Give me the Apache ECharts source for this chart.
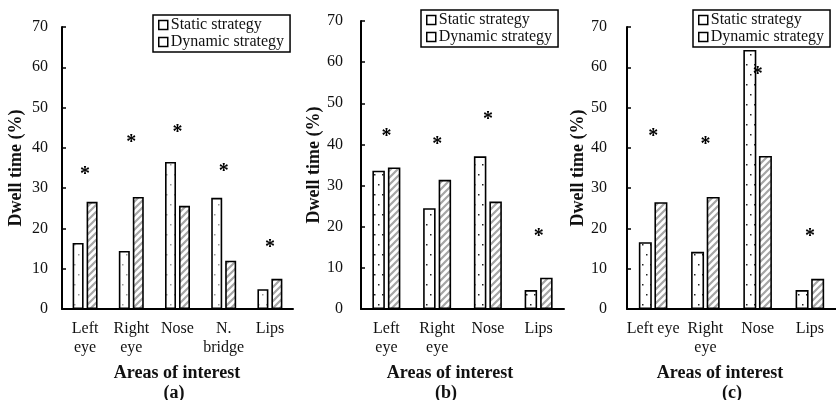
<!DOCTYPE html>
<html><head><meta charset="utf-8">
<script src="https://cdn.jsdelivr.net/npm/echarts@6/dist/echarts.min.js"></script>
<style>html,body{margin:0;padding:0;background:#fff}#c{width:836px;height:400px}</style>
</head><body><div id="c"></div>
<script>
// ---- data ----
const catsA = ['Left\neye', 'Right\neye', 'Nose', 'N.\nbridge', 'Lips'];
const staticA = [16.4, 14.4, 36.5, 27.6, 4.9];
const dynamicA = [26.6, 27.8, 25.6, 12.0, 7.5];
const starA = [34.5, 42.4, 44.9, 35.3, 16.4];

const catsB = ['Left\neye', 'Right\neye', 'Nose', 'Lips'];
const staticB = [33.6, 24.5, 37.1, 4.6];
const dynamicB = [34.4, 31.4, 26.1, 7.6];
const starB = [43.1, 41.1, 47.2, 18.8];

const catsC = ['Left eye', 'Right\neye', 'Nose', 'Lips'];
const staticC = [16.6, 14.2, 64.3, 4.7];
const dynamicC = [26.5, 27.8, 38.0, 7.5];
const starC = [43.9, 41.9, 59.3, 19.2];

const seriesNames = ['Static strategy', 'Dynamic strategy'];
const xTitle = 'Areas of interest';
const yTitle = 'Dwell time (%)';
const panelTags = ['(a)', '(b)', '(c)'];
const yMin = 0, yMax = 70, yStep = 10;

// ---- patterns ----
function dotPattern(color) {
  const c = document.createElement('canvas'); c.width = 8; c.height = 20;
  const g = c.getContext('2d'); g.fillStyle = '#fff'; g.fillRect(0, 0, 8, 20);
  g.fillStyle = color;
  g.fillRect(2, 4, 1.5, 1.5); g.fillRect(6, 14, 1.5, 1.5);
  return { image: c, repeat: 'repeat' };
}
function hatchPattern() {
  const s = 7;
  const c = document.createElement('canvas'); c.width = s; c.height = s;
  const g = c.getContext('2d'); g.fillStyle = '#fff'; g.fillRect(0, 0, s, s);
  g.strokeStyle = '#a6a6a6'; g.lineWidth = 2.2;
  g.beginPath();
  g.moveTo(-1, s + 1); g.lineTo(s + 1, -1);
  g.moveTo(-1, 1); g.lineTo(1, -1);
  g.moveTo(s - 1, s + 1); g.lineTo(s + 1, s - 1);
  g.stroke();
  return { image: c, repeat: 'repeat' };
}

const FONT = 'Liberation Serif';
const panels = [
  { cats: catsA, st: staticA, dy: dynamicA, star: starA, grid: { left: 62, top: 27, width: 231, height: 282 }, bw: 11, gap: '27%', dot: '#9a9a9a', lmargin: 14, nameGap: 37,
    legend: { left: 153, top: 15 }, titleX: 177, tagX: 174 },
  { cats: catsB, st: staticB, dy: dynamicB, star: starB, grid: { left: 361, top: 21, width: 203, height: 288 }, bw: 12.5, gap: '24%', dot: '#222', lmargin: 18, nameGap: 38,
    legend: { left: 421, top: 10 }, titleX: 450, tagX: 446 },
  { cats: catsC, st: staticC, dy: dynamicC, star: starC, grid: { left: 627, top: 27, width: 216, height: 282 }, bw: 13, gap: '20%', dot: '#222', lmargin: 20, nameGap: 31,
    legend: { left: 693, top: 10 }, titleX: 720, tagX: 732 }
];

const option = {
  animation: false,
  backgroundColor: '#fff',
  textStyle: { fontFamily: FONT },
  grid: [], xAxis: [], yAxis: [], series: [], legend: [], graphic: []
};

panels.forEach((p, i) => {
  option.grid.push(Object.assign({ containLabel: false }, p.grid));
  option.xAxis.push({
    type: 'category', gridIndex: i, data: p.cats,
    axisLine: { lineStyle: { color: '#000', width: 2 } },
    axisTick: { show: false },
    axisLabel: { interval: 0, color: '#111', fontFamily: FONT, fontSize: 16, lineHeight: 19, margin: 10 }
  });
  option.yAxis.push({
    type: 'value', gridIndex: i, min: yMin, max: yMax, interval: yStep,
    name: yTitle, nameLocation: 'middle', nameGap: p.nameGap,
    nameTextStyle: { fontFamily: FONT, fontWeight: 'bold', fontSize: 18, color: '#111' },
    axisLine: { show: true, lineStyle: { color: '#000', width: 2 } },
    axisTick: { show: true, inside: true, length: 4, lineStyle: { color: '#000', width: 1.5 } },
    splitLine: { show: false },
    axisLabel: { color: '#111', fontFamily: FONT, fontSize: 16, margin: p.lmargin }
  });
  option.series.push({
    name: seriesNames[0], type: 'bar', xAxisIndex: i, yAxisIndex: i, data: p.st,
    barWidth: p.bw, barGap: p.gap,
    itemStyle: { color: dotPattern(p.dot), borderColor: '#000', borderWidth: 1.6 }
  });
  option.series.push({
    name: seriesNames[1], type: 'bar', xAxisIndex: i, yAxisIndex: i, data: p.dy,
    barWidth: p.bw, barGap: p.gap,
    itemStyle: { color: hatchPattern(), borderColor: '#000', borderWidth: 1.6 }
  });
  option.series.push({
    name: 'sig', type: 'scatter', xAxisIndex: i, yAxisIndex: i, data: p.star,
    symbolSize: 2, itemStyle: { color: 'rgba(0,0,0,0)', opacity: 1 },
    label: { show: true, position: 'inside', formatter: '*', fontFamily: FONT, fontWeight: 'bold', fontSize: 20, color: '#000', opacity: 1, offset: [0, 5] }
  });
  option.legend.push({
    left: p.legend.left, top: p.legend.top, orient: 'vertical',
    data: seriesNames.map(n => ({ name: n, itemStyle: { color: '#fff', borderColor: '#000', borderWidth: 1.5 } })),
    icon: 'rect', itemWidth: 9, itemHeight: 9, itemGap: 1,
    padding: [2, 6, 2, 5],
    borderColor: '#000', borderWidth: 1.5,
    selectedMode: false,
    textStyle: { fontFamily: FONT, fontSize: 16, color: '#111', padding: [0, 0, 0, -2], lineHeight: 16 }
  });
  option.graphic.push({
    type: 'text', x: p.titleX, y: 373, style: { text: xTitle, font: 'bold 18px "' + FONT + '"', fill: '#111', align: 'center', verticalAlign: 'middle' }
  });
  option.graphic.push({
    type: 'text', x: p.tagX, y: 393, style: { text: panelTags[i], font: 'bold 18px "' + FONT + '"', fill: '#111', align: 'center', verticalAlign: 'middle' }
  });
});

const chart = echarts.init(document.getElementById('c'));
chart.setOption(option);
</script>
</body></html>
